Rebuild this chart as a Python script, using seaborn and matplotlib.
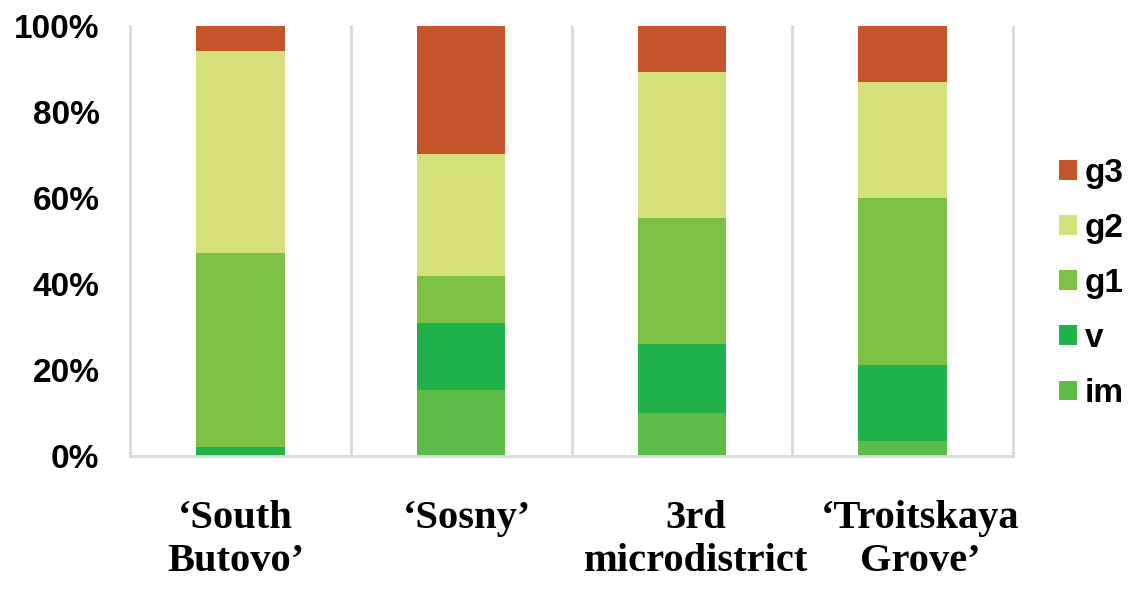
import numpy as np
import pandas as pd
import matplotlib
matplotlib.use("Agg")
import matplotlib.pyplot as plt
import seaborn as sns
from matplotlib.patches import Patch
from matplotlib.ticker import FuncFormatter

# ---- data (percent of each site's total) ----
sites = ["‘South\nButovo’", "‘Sosny’", "3rd\nmicrodistrict", "‘Troitskaya\nGrove’"]
im = [0.0, 15.3, 10.0, 3.5]
v = [2.1, 15.6, 16.0, 17.7]
g1 = [45.1, 11.0, 29.3, 38.7]
g2 = [47.1, 28.3, 34.0, 27.0]
g3 = [5.7, 29.8, 10.7, 13.1]
series_names = ["im", "v", "g1", "g2", "g3"]
series_colors = ["#5DBB48", "#20B14A", "#7CC144", "#D7E17B", "#C4552A"]

sns.set_theme(style="white")
plt.rcParams["font.family"] = ["Liberation Sans", "DejaVu Sans"]
plt.rcParams["text.color"] = "black"
plt.rcParams["xtick.color"] = "black"
plt.rcParams["ytick.color"] = "black"

fig = plt.figure(figsize=(11.43, 5.93), dpi=100)
ax = fig.add_axes([130 / 1143, 137 / 593, 883 / 1143, 430 / 593])

vals = np.array([im, v, g1, g2, g3])
tot = vals.sum(axis=0)
vals = vals / tot * 100.0
cum = np.cumsum(vals, axis=0)

# draw from top of stack down so lower segments overlay
for i in range(len(series_names) - 1, -1, -1):
    df = pd.DataFrame({"site": sites, "cum": cum[i]})
    sns.barplot(data=df, x="site", y="cum", color=series_colors[i],
                saturation=1, width=0.4, ax=ax, linewidth=0, order=sites)

ax.set_xlim(-0.5, 3.5)
ax.set_ylim(0, 100)
ax.set_yticks([0, 20, 40, 60, 80, 100])
ax.yaxis.set_major_formatter(FuncFormatter(lambda y, p: f"{int(y)}%"))
ax.set_xlabel("")
ax.set_ylabel("")

ax.grid(False)
for xb in [0.5, 1.5, 2.5, 3.5]:
    ax.axvline(xb, color="#d9d9d9", lw=2, zorder=0, clip_on=False)

for s in ["top", "right"]:
    ax.spines[s].set_visible(False)
ax.spines["left"].set_color("#d9d9d9")
ax.spines["left"].set_linewidth(2)
ax.spines["bottom"].set_color("#d9d9d9")
ax.spines["bottom"].set_linewidth(2)

ax.tick_params(axis="y", length=0, pad=22, labelsize=24, labelcolor="black")
for t in ax.get_yticklabels():
    t.set_fontweight("bold")

# category labels (wrapped like the original, with slight per-label shifts)
ax.set_xticks(range(len(sites)))
ax.set_xticklabels([""] * len(sites))
ax.tick_params(axis="x", length=0)
label_shift_px = [-5, 6, 14, 18]
for i, lab in enumerate(sites):
    ax.annotate(lab, xy=(i, 0), xycoords=("data", "axes fraction"),
                xytext=(label_shift_px[i], -44), textcoords="offset pixels",
                ha="center", va="top", multialignment="center",
                fontsize=29.2, fontweight="bold", linespacing=1.2,
                family=["Liberation Serif", "DejaVu Serif"], color="black",
                annotation_clip=False)

handles = [Patch(facecolor=series_colors[i], edgecolor="none", label=series_names[i])
           for i in range(len(series_names) - 1, -1, -1)]
fig.legend(handles=handles, loc="center left", bbox_to_anchor=(1059 / 1143, 1 - 283.5 / 593),
           frameon=False, borderpad=0, borderaxespad=0, handlelength=0.54, handleheight=0.54,
           handletextpad=0.24, labelspacing=0.725,
           prop={"family": "Liberation Sans", "weight": "bold", "size": 24})

fig.savefig("out.png", dpi=100)
